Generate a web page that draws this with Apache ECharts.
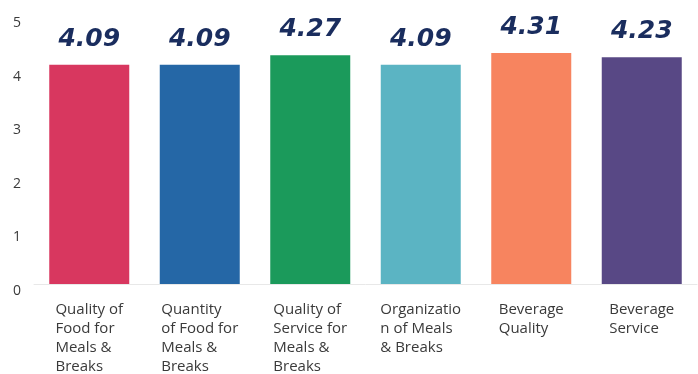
<!DOCTYPE html>
<html>
<head>
<meta charset="utf-8">
<script src="https://cdn.jsdelivr.net/npm/echarts@6/dist/echarts.min.js"></script>
<style>
  html, body { margin: 0; padding: 0; background: #fff; }
  #chart { width: 698px; height: 374px; }
</style>
</head>
<body>
<div id="chart"></div>
<script>
// Category labels, already wrapped the way they are printed under the bars
const categories = [
  'Quality of\nFood for\nMeals &\nBreaks',
  'Quantity\nof Food for\nMeals &\nBreaks',
  'Quality of\nService for\nMeals &\nBreaks',
  'Organizatio\nn of Meals\n& Breaks',
  'Beverage\nQuality',
  'Beverage\nService'
];
// Average rating per category
const scores = [4.09, 4.09, 4.27, 4.09, 4.31, 4.23];
// Bar fill per category
const barColors = ['#d8375f', '#2567a6', '#1b9a5b', '#5bb4c3', '#f7845f', '#584885'];
// Rating scale ticks
const yTicks = [0, 1, 2, 3, 4, 5];

const chart = echarts.init(document.getElementById('chart'), null, { renderer: 'canvas' });

chart.setOption({
  backgroundColor: '#ffffff',
  animation: false,
  grid: { left: 34, right: 1, top: 16, bottom: 90, containLabel: false },
  xAxis: {
    type: 'category',
    data: categories,
    axisTick: { show: false },
    axisLine: { show: true, lineStyle: { color: '#e8e8e8', width: 1 } },
    axisLabel: {
      interval: 0,
      margin: 16,
      align: 'center',
      formatter: v => v.split('\n').map(l => '{t|' + l + '}').join('\n'),
      rich: {
        t: {
          align: 'left',
          fontFamily: 'Open Sans',
          fontSize: 15,
          lineHeight: 19,
          color: '#3a3a3a'
        }
      }
    }
  },
  yAxis: {
    type: 'value',
    min: yTicks[0],
    max: yTicks[yTicks.length - 1],
    interval: 1,
    splitLine: { show: false },
    axisLine: { show: false },
    axisTick: { show: false },
    axisLabel: {
      margin: 13,
      verticalAlign: 'top',
      fontFamily: 'Open Sans',
      fontSize: 14,
      color: '#3a3a3a'
    }
  },
  series: [{
    type: 'bar',
    barWidth: 80,
    data: scores.map((v, i) => ({ value: v, itemStyle: { color: barColors[i] } })),
    label: {
      show: true,
      position: 'top',
      distance: 13,
      // slanted marker-style value written above each bar
      formatter: p => p.value.toFixed(2),
      fontFamily: 'DejaVu Sans',
      fontStyle: 'italic',
      fontWeight: 'bold',
      fontSize: 25,
      color: '#1a2d5e'
    }
  }]
});
</script>
</body>
</html>
